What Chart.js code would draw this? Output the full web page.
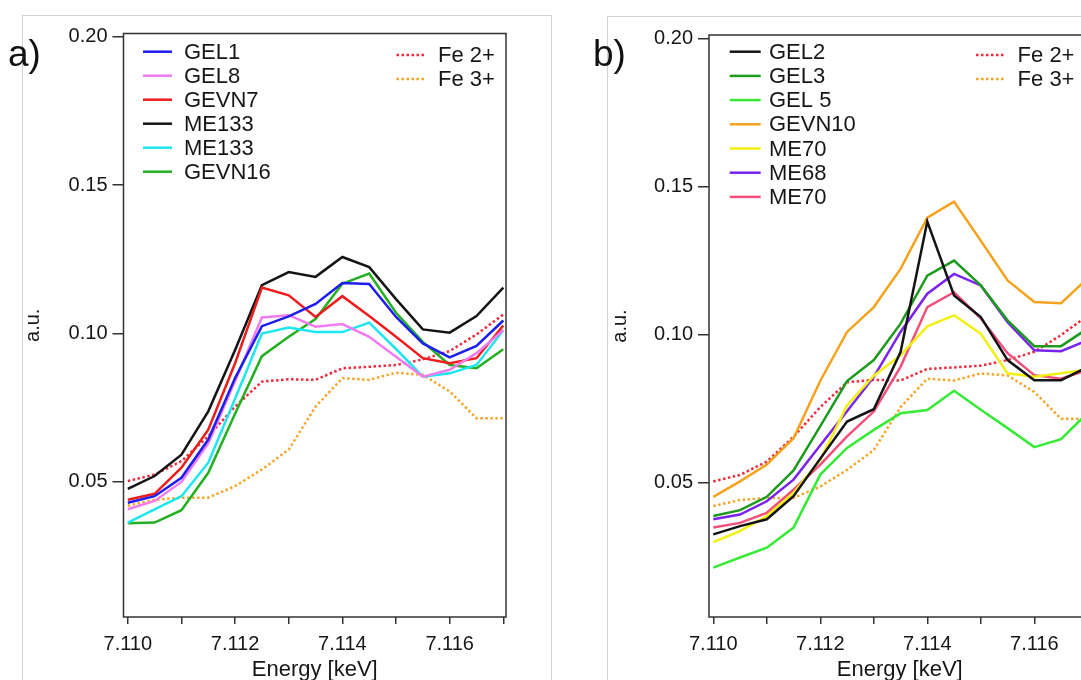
<!DOCTYPE html>
<html>
<head>
<meta charset="utf-8">
<script src="https://cdn.jsdelivr.net/npm/chart.js@4/dist/chart.umd.min.js"></script>
<style>
  html, body { margin: 0; padding: 0; background: #fff; }
  body { width: 1081px; height: 680px; overflow: hidden; position: relative; font-family: "Liberation Sans", Arial, sans-serif; }
  .card { position: absolute; border: 1px solid #d2d2d2; background: #fff; }
  .panel { position: absolute; top: 0; }
  .tag { position: absolute; font-size: 37px; line-height: 37px; color: #111; z-index: 3; }
</style>
</head>
<body>
<div class="card" style="left:22px; top:15px; width:528px; height:700px;"></div>
<div class="card" style="left:607px; top:16px; width:600px; height:700px;"></div>
<canvas id="chartA" class="panel" width="560" height="680" style="left:0px;"></canvas>
<canvas id="chartB" class="panel" width="560" height="680" style="left:600px;"></canvas>
<div class="tag" style="left:8px; top:35px;">a)</div>
<div class="tag" style="left:593px; top:35px;">b)</div>
<script>
// XANES pre-edge region, Fe K-edge; two panels of sample spectra + Fe reference spectra

// energy grid [keV]
const energy = [7.110, 7.1105, 7.111, 7.1115, 7.112, 7.1125, 7.113, 7.1135, 7.114, 7.1145, 7.115, 7.1155, 7.116, 7.1165, 7.117];
const xTickValues = [7.110, 7.111, 7.112, 7.113, 7.114, 7.115, 7.116, 7.117];
const yTickValues = [0.05, 0.10, 0.15, 0.20];

// reference spectra (shown in both panels)
const fe2 = [0.0503, 0.0525, 0.0570, 0.0654, 0.0754, 0.0838, 0.0846, 0.0844, 0.0883, 0.0888, 0.0894, 0.0913, 0.0941, 0.0997, 0.1064];
const fe3 = [0.0420, 0.0440, 0.0447, 0.0447, 0.0486, 0.0542, 0.0609, 0.0754, 0.0850, 0.0844, 0.0868, 0.0861, 0.0805, 0.0715, 0.0715];

// panel a
const gel1 = [0.0430, 0.0452, 0.0514, 0.0643, 0.0850, 0.1025, 0.1058, 0.1100, 0.1170, 0.1167, 0.1056, 0.0967, 0.0920, 0.0958, 0.1044];
const gel8 = [0.0408, 0.0436, 0.0500, 0.0630, 0.0840, 0.1054, 0.1062, 0.1023, 0.1032, 0.0989, 0.0922, 0.0855, 0.0878, 0.0934, 0.1011];
const gevn7 = [0.0440, 0.0460, 0.0548, 0.0676, 0.0900, 0.1155, 0.1129, 0.1056, 0.1126, 0.1059, 0.0989, 0.0917, 0.0900, 0.0917, 0.1027];
const me133Black = [0.0477, 0.0520, 0.0592, 0.0738, 0.0945, 0.1163, 0.1207, 0.1191, 0.1258, 0.1224, 0.1116, 0.1014, 0.1003, 0.1059, 0.1155];
const me133Cyan = [0.0363, 0.0408, 0.0452, 0.0565, 0.0780, 0.1000, 0.1020, 0.1005, 0.1005, 0.1037, 0.0948, 0.0855, 0.0866, 0.0894, 0.1011];
const gevn16 = [0.0361, 0.0363, 0.0405, 0.0531, 0.0730, 0.0924, 0.0989, 0.1049, 0.1168, 0.1202, 0.1070, 0.0972, 0.0894, 0.0883, 0.0947];

// panel b
const gel2 = [0.0324, 0.0352, 0.0375, 0.0453, 0.0580, 0.0705, 0.0747, 0.0940, 0.1381, 0.1131, 0.1058, 0.0913, 0.0845, 0.0845, 0.0890];
const gel3 = [0.0386, 0.0406, 0.0451, 0.0540, 0.0690, 0.0842, 0.0913, 0.1036, 0.1198, 0.1249, 0.1165, 0.1047, 0.0960, 0.0960, 0.1020];
const gel5 = [0.0212, 0.0246, 0.0279, 0.0347, 0.0526, 0.0616, 0.0677, 0.0733, 0.0744, 0.0809, 0.0745, 0.0683, 0.0619, 0.0646, 0.0735];
const gevn10 = [0.0451, 0.0503, 0.0560, 0.0649, 0.0843, 0.1008, 0.1092, 0.1221, 0.1394, 0.1448, 0.1316, 0.1182, 0.1109, 0.1105, 0.1190];
const me70Yellow = [0.0298, 0.0335, 0.0386, 0.0464, 0.0576, 0.0760, 0.0860, 0.0929, 0.1027, 0.1064, 0.1002, 0.0868, 0.0857, 0.0868, 0.0880];
const me68 = [0.0375, 0.0391, 0.0436, 0.0509, 0.0625, 0.0740, 0.0856, 0.1008, 0.1137, 0.1204, 0.1165, 0.1041, 0.0946, 0.0943, 0.0980];
const me70Pink = [0.0347, 0.0363, 0.0397, 0.0475, 0.0560, 0.0655, 0.0739, 0.0890, 0.1092, 0.1142, 0.1054, 0.0936, 0.0862, 0.0850, 0.0880];

const FONT = '"Liberation Sans", Arial, Helvetica, sans-serif';
const TEXT = '#161616';

function pts(values) {
    return values.map((v, i) => ({ x: energy[i], y: v }));
}
function solid(label, values, color) {
    return { label: label, data: pts(values), borderColor: color, borderWidth: 2.5, pointRadius: 0, tension: 0 };
}
function dotted(label, values, color) {
    return { label: label, data: pts(values), borderColor: color, borderWidth: 2.5, borderDash: [2.5, 2.5], pointRadius: 0, tension: 0 };
}

// frame around plot area + in-plot key (two blocks)
const frameAndKey = {
    id: 'frameAndKey',
    afterDatasetsDraw(chart, args, opts) {
        const { ctx, chartArea: a } = chart;
        ctx.save();
        ctx.strokeStyle = '#333';
        ctx.lineWidth = 1.5;
        ctx.strokeRect(a.left, a.top, a.right - a.left, a.bottom - a.top);
        ctx.font = '22px ' + FONT;
        ctx.textBaseline = 'middle';
        opts.blocks.forEach(b => {
            b.items.forEach((idx, n) => {
                const ds = chart.data.datasets[idx];
                const y = a.top + b.top + n * b.gap;
                ctx.beginPath();
                ctx.setLineDash(ds.borderDash || []);
                ctx.strokeStyle = ds.borderColor;
                ctx.lineWidth = ds.borderWidth;
                ctx.moveTo(a.left + b.lineFrom, y);
                ctx.lineTo(a.left + b.lineTo, y);
                ctx.stroke();
                ctx.setLineDash([]);
                ctx.fillStyle = TEXT;
                ctx.fillText(ds.label, a.left + b.textX, y + 1);
            });
        });
        ctx.restore();
    }
};

function makeChart(id, datasets, geo, blocks) {
    return new Chart(document.getElementById(id), {
        type: 'line',
        data: { datasets: datasets },
        options: {
            responsive: false,
            animation: false,
            layout: { autoPadding: false, padding: { left: 0, top: geo.top, right: geo.right, bottom: 0 } },
            plugins: { legend: { display: false }, tooltip: { enabled: false }, frameAndKey: { blocks: blocks } },
            scales: {
                x: {
                    type: 'linear',
                    min: 7.10992,
                    max: 7.11705,
                    afterFit: s => { s.height = 63; },
                    afterBuildTicks: s => { s.ticks = xTickValues.map(v => ({ value: v })); },
                    grid: { drawOnChartArea: false, drawTicks: true, tickLength: 7, color: '#333', lineWidth: 1.5 },
                    border: { display: false },
                    ticks: {
                        padding: 8,
                        color: TEXT,
                        font: { family: FONT, size: 20 },
                        maxRotation: 0,
                        autoSkip: false,
                        callback: v => (Math.round(v * 1000) % 2 === 0 ? v.toFixed(3) : '')
                    },
                    title: { display: true, text: 'Energy [keV]', color: TEXT, font: { family: FONT, size: 22 }, padding: { top: 0, bottom: -3 } }
                },
                y: {
                    min: 0.0045,
                    max: 0.2011,
                    afterFit: s => { s.width = geo.yWidth; },
                    afterBuildTicks: s => { s.ticks = yTickValues.map(v => ({ value: v })); },
                    grid: { drawOnChartArea: false, drawTicks: true, tickLength: 11, color: '#333', lineWidth: 1.5 },
                    border: { display: false },
                    ticks: { padding: 5, color: TEXT, font: { family: FONT, size: 20 }, callback: v => v.toFixed(2) },
                    title: { display: true, text: 'a.u.', color: TEXT, font: { family: FONT, size: 20 }, padding: { top: geo.titlePad, bottom: 0 } }
                }
            }
        },
        plugins: [frameAndKey]
    });
}

makeChart('chartA', [
    solid('GEL1', gel1, '#1d1df0'),
    solid('GEL8', gel8, '#f07cf0'),
    solid('GEVN7', gevn7, '#ee1c1c'),
    solid('ME133', me133Black, '#141414'),
    solid('ME133', me133Cyan, '#1ee6ee'),
    solid('GEVN16', gevn16, '#22b022'),
    dotted('Fe 2+', fe2, '#ee2a3c'),
    dotted('Fe 3+', fe3, '#f5a62a')
], { top: 33.5, right: 54, yWidth: 123.5, titlePad: 21.5 }, [
    { items: [0, 1, 2, 3, 4, 5], top: 18.2, gap: 24, lineFrom: 19.5, lineTo: 48.5, textX: 60.5 },
    { items: [6, 7], top: 21.5, gap: 24, lineFrom: 273, lineTo: 300.5, textX: 314.5 }
]);

makeChart('chartB', [
    solid('GEL2', gel2, '#141414'),
    solid('GEL3', gel3, '#1e9a1e'),
    solid('GEL 5', gel5, '#36ea36'),
    solid('GEVN10', gevn10, '#f5a31e'),
    solid('ME70', me70Yellow, '#f2f010'),
    solid('ME68', me68, '#7a22ee'),
    solid('ME70', me70Pink, '#f2507c'),
    dotted('Fe 2+', fe2, '#ee2a3c'),
    dotted('Fe 3+', fe3, '#f5a62a')
], { top: 35, right: 69.5, yWidth: 109, titlePad: 8 }, [
    { items: [0, 1, 2, 3, 4, 5, 6], top: 16.7, gap: 24.2, lineFrom: 20.7, lineTo: 51.7, textX: 60 },
    { items: [7, 8], top: 20, gap: 24, lineFrom: 267, lineTo: 295, textX: 308.6 }
]);
</script>
</body>
</html>
